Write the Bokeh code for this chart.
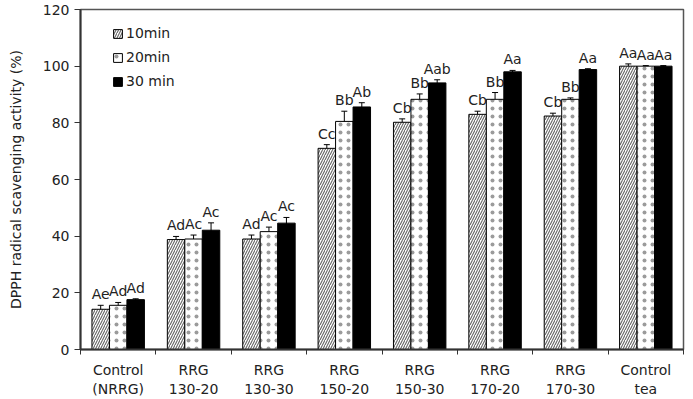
import numpy as np
from bokeh.plotting import figure
from bokeh.models import (ColumnDataSource, FixedTicker, Whisker, TeeHead, Legend, LegendItem)
from bokeh.core.properties import value
from bokeh.embed import file_html
from bokeh.resources import INLINE

categories = ["Control\n(NRRG)", "RRG\n130-20", "RRG\n130-30", "RRG\n150-20",
              "RRG\n150-30", "RRG\n170-20", "RRG\n170-30", "Control\ntea"]
series = ["10min", "20min", "30 min"]
v10 = [14.2, 38.8, 39.0, 71.0, 80.2, 83.0, 82.4, 100.0]
v20 = [15.6, 39.0, 41.6, 80.5, 88.3, 88.3, 88.3, 100.0]
v30 = [17.6, 42.1, 44.6, 85.6, 94.1, 98.0, 98.8, 100.0]
e10 = [1.4, 1.1, 1.4, 1.3, 1.2, 1.1, 1.0, 0.8]
e20 = [1.0, 1.4, 1.6, 3.6, 1.9, 2.4, 0.5, 0.2]
e30 = [0.3, 2.6, 2.0, 1.5, 1.1, 0.5, 0.3, 0.2]
lab10 = ["Ae", "Ad", "Ad", "Cc", "Cb", "Cb", "Cb", "Aa"]
lab20 = ["Ad", "Ac", "Ac", "Bb", "Bb", "Bb", "Bb", "Aa"]
lab30 = ["Ad", "Ac", "Ac", "Ab", "Aab", "Aa", "Aa", "Aa"]
yticks = [0, 20, 40, 60, 80, 100, 120]

FONT = "DejaVu Sans"
FS = "14px"
n = len(categories)
centers = np.arange(n) + 0.5
bw = 0.232

p = figure(width=693, height=399, x_range=(0, n), y_range=(0, 120),
           output_backend="svg", toolbar_location=None,
           min_border_left=80, min_border_right=10, min_border_top=9, min_border_bottom=50)
p.grid.visible = False
p.background_fill_color = "white"
p.outline_line_color = "#555555"
p.outline_line_width = 1.5

styles = [
    dict(fill_color="white", hatch_pattern="right_diagonal_line", hatch_color="#666666",
         hatch_scale=5, hatch_weight=1.1),
    dict(fill_color="white", hatch_pattern="dot", hatch_color="#222222",
         hatch_scale=8, hatch_alpha=0.45),
    dict(fill_color="black"),
]
vals = [v10, v20, v30]
errs = [e10, e20, e30]
labs = [lab10, lab20, lab30]
items = []
for j in range(3):
    x = centers + (j - 1) * bw
    v = np.array(vals[j]); e = np.array(errs[j])
    src = ColumnDataSource(dict(x=x, top=v, lo=v - e, hi=v + e, lab=labs[j]))
    r = p.vbar(x="x", top="top", width=bw, source=src, line_color="black", line_width=1, **styles[j])
    items.append(LegendItem(label=series[j], renderers=[r]))
    w = Whisker(base="x", upper="hi", lower="lo", source=src, line_color="black", line_width=1,
                upper_head=TeeHead(size=6, line_color="black", line_width=1),
                lower_head=TeeHead(size=6, line_color="black", line_width=1))
    p.add_layout(w)
    p.text(x="x", y="hi", text="lab", source=src, text_align="center", text_baseline="bottom",
           y_offset=-3, text_font=value(FONT), text_font_size=FS, text_color="#222222")

legend = Legend(items=items, location=(32, 256), border_line_color=None, background_fill_alpha=0,
                label_text_font=FONT, label_text_font_size=FS, label_text_color="#222222",
                glyph_width=11, glyph_height=11, label_height=24, spacing=0, padding=0,
                label_standoff=3, margin=0)
p.add_layout(legend)

ya = p.yaxis[0]
ya.ticker = FixedTicker(ticks=yticks)
ya.axis_label = "DPPH radical scavenging activity (%)"
ya.axis_label_text_font = FONT
ya.axis_label_text_font_size = FS
ya.axis_label_text_font_style = "normal"
ya.axis_label_text_color = "#222222"
ya.axis_label_standoff = 16
ya.major_label_text_font = FONT
ya.major_label_text_font_size = FS
ya.major_label_text_color = "#222222"
ya.major_tick_out = 6
ya.major_tick_in = 0
ya.minor_tick_out = 0
ya.minor_tick_in = 0
ya.axis_line_width = 2
ya.axis_line_color = "#333333"
ya.major_tick_line_color = "#333333"

xa = p.xaxis[0]
xa.ticker = FixedTicker(ticks=list(centers), minor_ticks=list(range(n + 1)))
xa.major_label_overrides = {float(c): categories[i] for i, c in enumerate(centers)}
xa.major_label_text_font = FONT
xa.major_label_text_font_size = FS
xa.major_label_text_color = "#222222"
xa.major_tick_out = 0
xa.major_tick_in = 0
xa.minor_tick_out = 5
xa.minor_tick_in = 0
xa.minor_tick_line_color = "#333333"
xa.axis_line_width = 2
xa.axis_line_color = "#333333"
xa.major_label_standoff = 7

open("out.html", "w").write(file_html(p, INLINE))
